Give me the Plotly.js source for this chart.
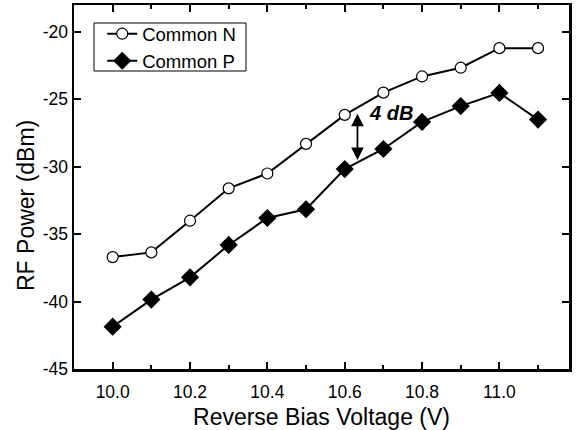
<!DOCTYPE html>
<html><head><meta charset="utf-8">
<script src="https://cdn.plot.ly/plotly-3.0.1.min.js"></script>
<style>body{margin:0;padding:0;background:#fff}#chart{width:581px;height:430px}</style>
</head><body><div id="chart"></div>
<script>
const voltage = [10.0,10.1,10.2,10.3,10.4,10.5,10.6,10.7,10.8,10.9,11.0,11.1];
const commonN = [-36.7,-36.35,-34.0,-31.6,-30.5,-28.3,-26.15,-24.5,-23.3,-22.65,-21.2,-21.2];
const commonP = [-41.86,-39.85,-38.2,-35.8,-33.8,-33.15,-30.17,-28.68,-26.67,-25.5,-24.52,-26.5];
const seriesNames = ['Common N','Common P'];
const yTickVals = [-45,-40,-35,-30,-25,-20];
const yTickText = ['-45','-40','-35','-30','-25','-20'];
const xTickVals = [10.0,10.2,10.4,10.6,10.8,11.0];
const xTickText = ['10.0','10.2','10.4','10.6','10.8','11.0'];
const arrowX = 10.633, arrowTop = -25.95, arrowBottom = -29.5;
const gapLabel = '4 dB';
const xTitle = 'Reverse Bias Voltage (V)';
const yTitle = 'RF Power (dBm)';

const font = {family:'Liberation Sans, Arial, sans-serif', color:'#000'};
const traces = [
  {x:voltage, y:commonN, name:seriesNames[0], type:'scatter', mode:'lines+markers',
   line:{color:'#000', width:2},
   marker:{symbol:'circle', size:11, color:'#fff', line:{color:'#000', width:1.2}}},
  {x:voltage, y:commonP, name:seriesNames[1], type:'scatter', mode:'lines+markers',
   line:{color:'#000', width:2},
   marker:{symbol:'diamond', size:14, color:'#000', line:{color:'#000', width:0}}}
];
const axisCommon = {showgrid:false, zeroline:false, showline:true, linecolor:'#000', linewidth:2.5,
  mirror:'ticks', ticks:'inside', ticklen:7, tickwidth:2, tickcolor:'#000', automargin:false,
  tickfont:Object.assign({size:17.5}, font)};
const layout = {
  width:581, height:430,
  margin:{l:74, r:12, t:5, b:61},
  paper_bgcolor:'#fff', plot_bgcolor:'#fff',
  font:font,
  xaxis:Object.assign({}, axisCommon, {range:[9.9,11.18], tickmode:'array', tickvals:xTickVals, ticktext:xTickText,
    ticklabelstandoff:5,
    minor:{ticks:'inside', dtick:0.1, tick0:10.0, ticklen:4, tickwidth:2, tickcolor:'#000', showgrid:false},
    title:{text:xTitle, font:Object.assign({size:23}, font), standoff:9}}),
  yaxis:Object.assign({}, axisCommon, {range:[-45,-18], tickmode:'array', tickvals:yTickVals, ticktext:yTickText}),
  showlegend:true,
  legend:{x:0.057, y:0.972, xanchor:'left', yanchor:'top', borderwidth:0,
    bgcolor:'rgba(0,0,0,0)', font:Object.assign({size:18.5}, font), tracegroupgap:0, itemwidth:30},
  shapes:[
    {type:'rect', xref:'paper', yref:'paper', x0:(94-74)/495, x1:(246-74)/495,
     y0:1-(71-5)/364, y1:1-(23-5)/364, line:{color:'#000', width:1}, layer:'below'}
  ],
  annotations:[
    {x:arrowX, y:arrowBottom, ax:arrowX, ay:arrowTop, xref:'x', yref:'y', axref:'x', ayref:'y',
     text:'', showarrow:true, arrowhead:2, arrowside:'end+start', arrowsize:1.4, arrowwidth:1.8, arrowcolor:'#000'},
    {x:10.72, y:-26.0, xref:'x', yref:'y', text:'<b><i>'+gapLabel+'</i></b>', showarrow:false,
     font:Object.assign({size:20}, font)},
    {x:(26-74)/495, y:1-(206-5)/364, xref:'paper', yref:'paper', text:yTitle, textangle:-90,
     showarrow:false, xanchor:'center', yanchor:'middle', font:Object.assign({size:23}, font)}
  ]
};
Plotly.newPlot('chart', traces, layout, {displayModeBar:false, staticPlot:true});
</script></body></html>
